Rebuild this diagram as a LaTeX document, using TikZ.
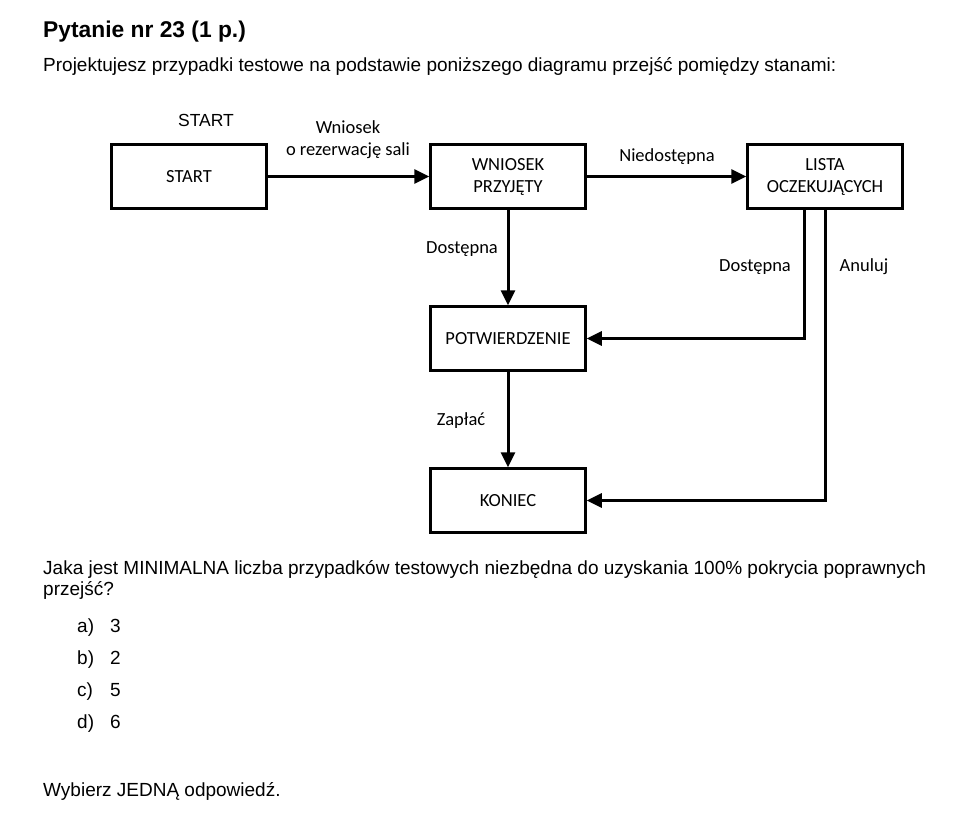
\documentclass[tikz,border=0pt]{standalone}
\usepackage{fontspec}
\setmainfont{Liberation Sans}
\newfontfamily\diagfont{Carlito}
\usetikzlibrary{arrows.meta}

\begin{document}
\begin{tikzpicture}[x=1pt, y=-1pt,
  state/.style={draw, line width=2.5pt, minimum width=155pt, minimum height=64pt, inner sep=0pt, align=center, font=\diagfont\fontsize{18.5}{22}\selectfont},
  lbl/.style={inner sep=0pt, align=center, font=\diagfont\fontsize{18.5}{22}\selectfont},
  txt/.style={anchor=base west, inner sep=0pt, font=\fontsize{19}{22}\selectfont},
  trans/.style={line width=3pt, -{Triangle[length=15pt, width=14pt]}}
]
  \fill[white] (0,0) rectangle (979,818);
  \useasboundingbox (0,0) rectangle (979,818);

  % question text
  \node[txt, font=\bfseries\fontsize{22.8}{26}\selectfont] (title) at (43,38) {Pytanie nr 23 (1 p.)};
  \node[txt] (intro) at (43,72) {Projektujesz przypadki testowe na podstawie poniższego diagramu przejść pomiędzy stanami:};

  % states
  \node[state] (start) at (189,176.5) {START};
  \node[state] (wniosek) at (508,176.5) {WNIOSEK\\PRZYJĘTY};
  \node[state] (lista) at (825,176.5) {LISTA\\OCZEKUJĄCYCH};
  \node[state] (potw) at (508,338.5) {POTWIERDZENIE};
  \node[state] (koniec) at (508,500.5) {KONIEC};
  \node[anchor=base, inner sep=0pt, font=\fontsize{17.5}{20}\selectfont] (startlbl) at (206,127) {START};

  % transitions
  \draw[trans] (start) -- (wniosek);
  \draw[trans] (wniosek) -- (lista);
  \draw[trans] (wniosek) -- (potw);
  \draw[trans] (potw) -- (koniec);
  \draw[trans] ([xshift=-21pt]lista.south) |- (potw.east);
  \draw[trans] (lista.south) |- (koniec.east);

  % labels
  \node[lbl] (l1) at (348,140) {Wniosek\\o rezerwację sali};
  \node[lbl, anchor=base] (l2) at (667,162) {Niedostępna};
  \node[lbl, anchor=base] (l3) at (462,254) {Dostępna};
  \node[lbl, anchor=base] (l4) at (755,271) {Dostępna};
  \node[lbl, anchor=base] (l5) at (864,271) {Anuluj};
  \node[lbl, anchor=base] (l6) at (461,425) {Zapłać};

  % answers
  \node[txt] (q1) at (43,574) {Jaka jest MINIMALNA liczba przypadków testowych niezbędna do uzyskania 100\% pokrycia poprawnych};
  \node[txt] (q2) at (43,595) {przejść?};
  \foreach \k/\v [count=\i from 0] in {a/3, b/2, c/5, d/6} {
    \node[txt] (opt\k) at (77,632+32.3*\i) {\k)};
    \node[txt] (val\k) at (110,632+32.3*\i) {\v};
  }
  \node[txt] (pick) at (43,796) {Wybierz JEDNĄ odpowiedź.};
\end{tikzpicture}
\end{document}
